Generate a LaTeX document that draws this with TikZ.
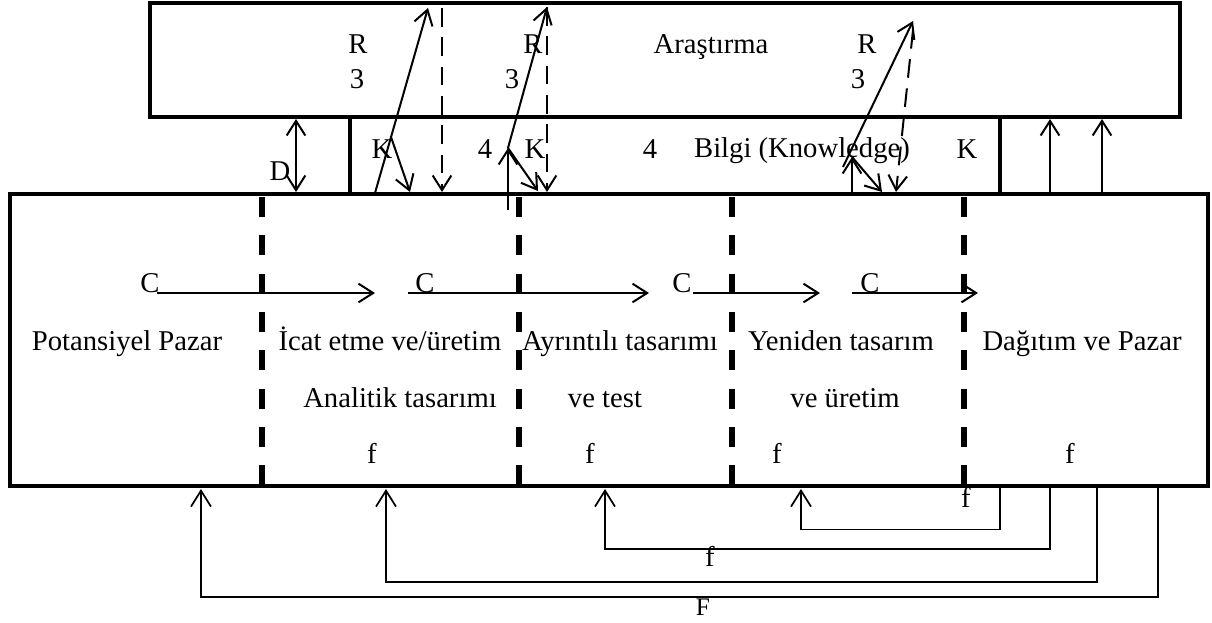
\documentclass[tikz,border=0pt]{standalone}
\usepackage{fontspec}
\setmainfont{Liberation Serif}
\usetikzlibrary{arrows.meta,fit}
\begin{document}
\begin{tikzpicture}[x=0.75pt,y=-0.75pt,
  box/.style={draw,line width=3pt,inner sep=0pt},
  divider/.style={line width=4pt,dash pattern=on 15pt off 13.75pt},
  flow/.style={line width=1.5pt,-{Straight Barb[length=11pt,width=14pt]}},
  dflow/.style={flow,dash pattern=on 14pt off 8pt},
  twoway/.style={line width=1.5pt,{Straight Barb[length=11pt,width=14pt]}-{Straight Barb[length=11pt,width=14pt]}},
  back/.style={line width=1.3pt,-{Straight Barb[length=12pt,width=15pt]}},
  lbl/.style={font=\fontsize{21.5pt}{24pt}\selectfont,inner sep=0pt,anchor=base},
]
\useasboundingbox (0,0) rectangle (1212,622);

% ---------- boxes ----------
\node[box,fit={(150,3) (1180,117)}] (research) {};
\node[box,fit={(350,117) (1000,194)}] (knowledge) {};
\node[box,fit={(10,194) (1208,486)}] (process) {};

% stage dividers
\foreach \x in {262,519,732,964}
  \draw[divider] (\x,197) -- (\x,485);

% ---------- texts ----------
\node[lbl] (araştırma) at (711,53) {Araştırma};
\node[lbl] (bilgi) at (802,157) {Bilgi (Knowledge)};
\node[lbl] (r1) at (358,53) {R};
\node[lbl] (r2) at (533,53) {R};
\node[lbl] (r3) at (867,53) {R};
\node[lbl] (t1) at (357,88) {3};
\node[lbl] (t2) at (512,88) {3};
\node[lbl] (t3) at (858,88) {3};
\node[lbl] (k1) at (382,158) {K};
\node[lbl] (k2) at (535,158) {K};
\node[lbl] (k3) at (967,158) {K};
\node[lbl] (q1) at (485,158) {4};
\node[lbl] (q2) at (650,158) {4};
\node[lbl] (dl) at (280,180) {D};
\node[lbl] (c1) at (150,292) {C};
\node[lbl] (c2) at (425,292) {C};
\node[lbl] (c3) at (682,292) {C};
\node[lbl] (c4) at (870,292) {C};

\node[lbl] (s1) at (127,350) {Potansiyel Pazar};
\node[lbl] (s2) at (390,350) {İcat etme ve/üretim};
\node[lbl] (s3) at (620,350) {Ayrıntılı tasarımı};
\node[lbl] (s4) at (841,350) {Yeniden tasarım};
\node[lbl] (s5) at (1082,350) {Dağıtım ve Pazar};
\node[lbl] (s2b) at (400,407) {Analitik tasarımı};
\node[lbl] (s3b) at (605,407) {ve test};
\node[lbl] (s4b) at (845,407) {ve üretim};
\node[lbl] (f2) at (372,463) {f};
\node[lbl] (f3) at (590,463) {f};
\node[lbl] (f4) at (777,463) {f};
\node[lbl] (f5) at (1070,463) {f};
\node[lbl] (fa) at (966,507) {f};
\node[lbl] (fb) at (710,566) {f};
\node[lbl,font=\fontsize{19pt}{21pt}\selectfont] (fc) at (703,615) {F};

% ---------- forward flow (C) ----------
\coordinate (ca0) at (157,293); \coordinate (ca1) at (375,293);
\coordinate (cb0) at (408,293); \coordinate (cb1) at (649,293);
\coordinate (cc0) at (693,293); \coordinate (cc1) at (820,293);
\coordinate (cd0) at (852,293); \coordinate (cd1) at (978,293);
\draw[flow] (ca0) -- (ca1);
\draw[flow] (cb0) -- (cb1);
\draw[flow] (cc0) -- (cc1);
\draw[flow] (cd0) -- (cd1);

% ---------- research / knowledge links ----------
\coordinate (d0) at (296,119); \coordinate (d1) at (296,192);
\draw[twoway] (d0) -- (d1);

% first group
\coordinate (a0) at (375,193); \coordinate (a1) at (428,8);
\coordinate (a2) at (391,137); \coordinate (a3) at (410,192);
\coordinate (a4) at (442,8);   \coordinate (a5) at (442,192);
\draw[flow] (a0) -- (a1);
\draw[flow] (a2) -- (a3);
\draw[dflow] (a4) -- (a5);

% second group
\coordinate (b0) at (508,210); \coordinate (b1) at (508,148);
\coordinate (b2) at (547,7);   \coordinate (b3) at (538,191);
\coordinate (b4) at (547,192);
\draw[flow] (b0) -- (b1);
\draw[flow] (b1) -- (b2);
\draw[flow] (b1) -- (b3);
\draw[dflow] (b2) -- (b4);

% third group
\coordinate (e0) at (852,193); \coordinate (e1) at (852,157);
\coordinate (e2) at (843,167); \coordinate (e3) at (913,21);
\coordinate (e4) at (882,192); \coordinate (e5) at (913,30);
\coordinate (e6) at (896,192);
\draw[flow] (e0) -- (e1);
\draw[flow] (e2) -- (e3);
\draw[flow] (e1) -- (e4);
\draw[dflow] (e5) -- (e6);

% market to research
\coordinate (m0) at (1050,193); \coordinate (m1) at (1050,119);
\coordinate (m2) at (1102,193); \coordinate (m3) at (1102,119);
\draw[flow] (m0) -- (m1);
\draw[flow] (m2) -- (m3);

% ---------- feedback loops ----------
\coordinate (p1) at (1000,488); \coordinate (q1f) at (801,489);
\coordinate (p2) at (1050,488); \coordinate (q2f) at (605,489);
\coordinate (p3) at (1097,488); \coordinate (q3f) at (386,489);
\coordinate (p4) at (1158,488); \coordinate (q4f) at (201,489);
\draw[back] (p1) |- (801,529.5) -- (q1f);
\draw[back] (p2) |- (605,549) -- (q2f);
\draw[back] (p3) |- (386,582) -- (q3f);
\draw[back] (p4) |- (201,597) -- (q4f);
\end{tikzpicture}
\end{document}
